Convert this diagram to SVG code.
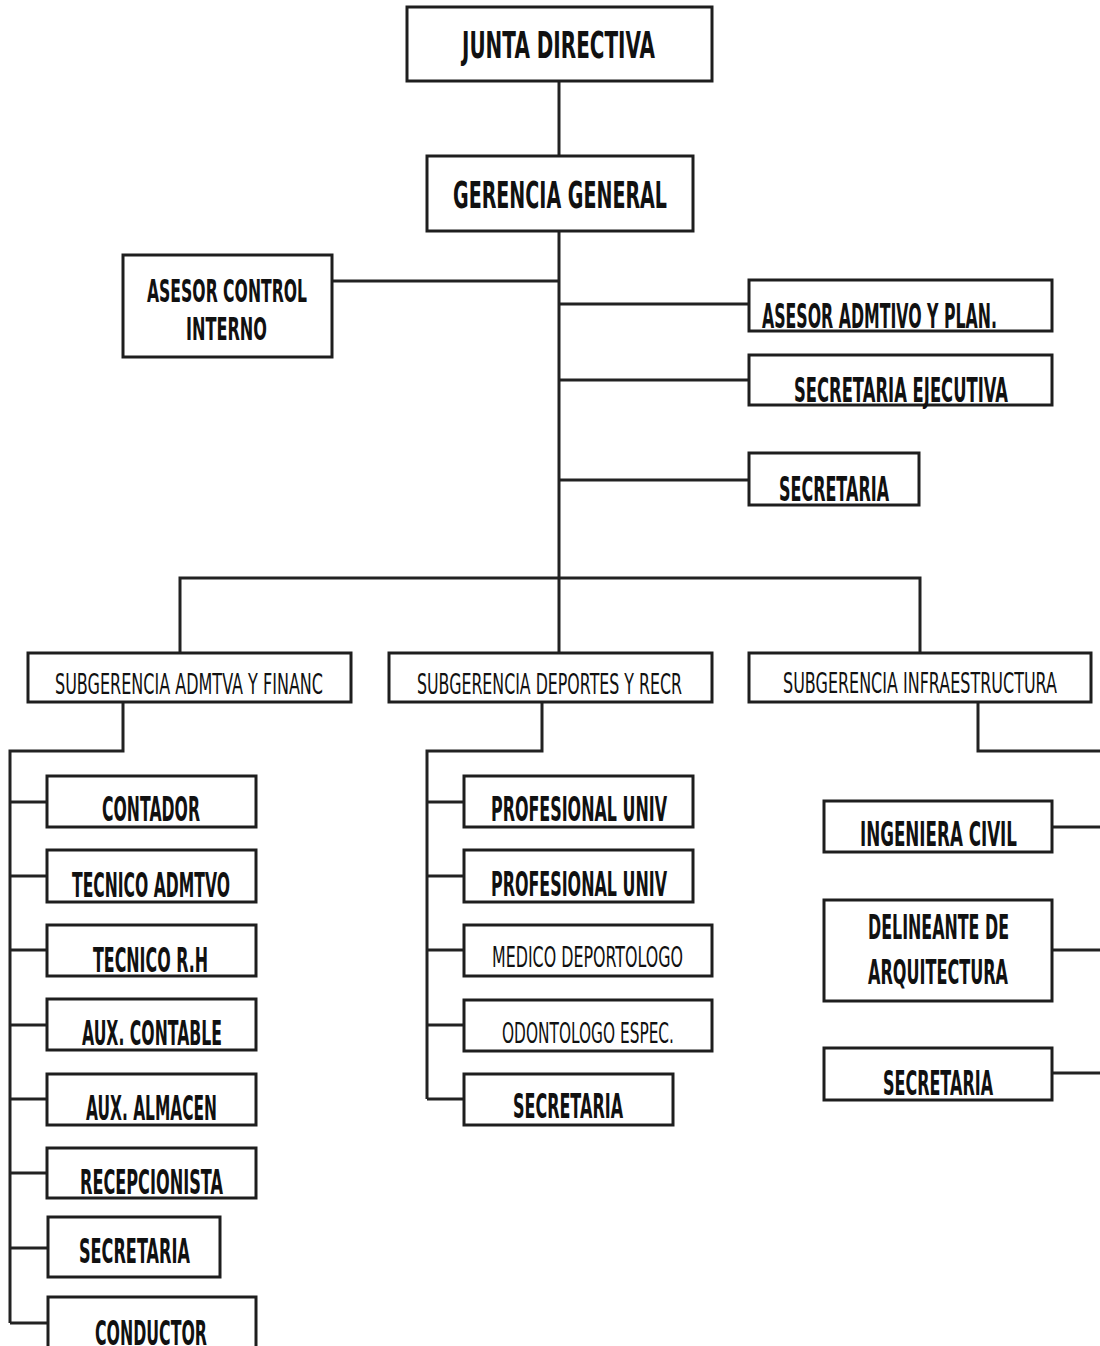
<svg xmlns="http://www.w3.org/2000/svg" width="1100" height="1346" viewBox="0 0 1100 1346">
<style>
.box{fill:#fff;stroke:#1e1e1e;stroke-width:3}
.b{font-family:"DejaVu Sans","Liberation Sans",sans-serif;font-weight:bold;fill:#111}
.n{font-family:"DejaVu Sans","Liberation Sans",sans-serif;font-weight:normal;fill:#111}
.big{font-size:19.4px}
.ac{font-size:15px}
.tr{font-size:15.7px}
.ch{font-size:15.6px}
.sub{font-size:15.7px}
.med{font-size:15.7px}
.ln{fill:none;stroke:#222;stroke-width:3}
</style>
<rect width="1100" height="1346" fill="#fff"/>
<g id="connectors" class="ln">
<path d="M559 81V156"/>
<path d="M559 231V653"/>
<path d="M332 281H559"/>
<path d="M559 304H749"/>
<path d="M559 380H749"/>
<path d="M559 480H749"/>
<path d="M180 653V578H920V653"/>
<path d="M123 702V751H10V1323"/>
<path d="M10 802H47M10 876H47M10 950H47M10 1025H47M10 1099H47M10 1173H47M10 1248H48M10 1323H48"/>
<path d="M542 702V751H427V1099"/>
<path d="M427 802H464M427 876H464M427 950H464M427 1025H464M427 1099H464"/>
<path d="M978 702V751H1100"/>
<path d="M1052 827H1100M1052 950H1100M1052 1073H1100"/>
</g>
<g id="junta"><rect class="box" x="407" y="7" width="305" height="74"/><text class="b big" x="462" y="58" transform="matrix(1 0 0 1.96 0 -55.68)" textLength="193" lengthAdjust="spacingAndGlyphs">JUNTA DIRECTIVA</text></g>
<g id="gerencia"><rect class="box" x="427" y="156" width="266" height="75"/><text class="b big" x="453" y="208" transform="matrix(1 0 0 1.96 0 -199.68)" textLength="214" lengthAdjust="spacingAndGlyphs">GERENCIA GENERAL</text></g>
<g id="asesor-control"><rect class="box" x="123" y="255" width="209" height="102"/><text class="b ac" x="147" y="302" transform="matrix(1 0 0 2.133 0 -342.17)" textLength="160" lengthAdjust="spacingAndGlyphs">ASESOR CONTROL</text><text class="b ac" x="186" y="340" transform="matrix(1 0 0 2.133 0 -385.22)" textLength="81" lengthAdjust="spacingAndGlyphs">INTERNO</text></g>
<g id="asesor-admtivo"><rect class="box" x="749" y="280" width="303" height="51"/><text class="b tr" x="762" y="328" transform="matrix(1 0 0 2.102 0 -361.46)" textLength="235" lengthAdjust="spacingAndGlyphs">ASESOR ADMTIVO Y PLAN.</text></g>
<g id="secretaria-ejecutiva"><rect class="box" x="749" y="355" width="303" height="50"/><text class="b tr" x="794" y="402" transform="matrix(1 0 0 2.102 0 -443.00)" textLength="214" lengthAdjust="spacingAndGlyphs">SECRETARIA EJECUTIVA</text></g>
<g id="secretaria-gerencia"><rect class="box" x="749" y="453" width="170" height="52"/><text class="b tr" x="779" y="501" transform="matrix(1 0 0 2.102 0 -552.10)" textLength="110" lengthAdjust="spacingAndGlyphs">SECRETARIA</text></g>
<g id="sub-admtva"><rect class="box" x="28" y="653" width="323" height="49"/><text class="n sub" x="55" y="694" transform="matrix(1 0 0 1.847 0 -587.82)" textLength="268" lengthAdjust="spacingAndGlyphs">SUBGERENCIA ADMTVA Y FINANC</text></g>
<g id="sub-deportes"><rect class="box" x="389" y="653" width="323" height="49"/><text class="n sub" x="417" y="694" transform="matrix(1 0 0 1.847 0 -587.82)" textLength="265" lengthAdjust="spacingAndGlyphs">SUBGERENCIA DEPORTES Y RECR</text></g>
<g id="sub-infra"><rect class="box" x="749" y="653" width="342" height="49"/><text class="n sub" x="783" y="693" transform="matrix(1 0 0 1.847 0 -586.97)" textLength="274" lengthAdjust="spacingAndGlyphs">SUBGERENCIA INFRAESTRUCTURA</text></g>
<g id="contador"><rect class="box" x="47" y="776" width="209" height="51"/><text class="b ch" x="102" y="821" transform="matrix(1 0 0 2.18 0 -968.78)" textLength="98" lengthAdjust="spacingAndGlyphs">CONTADOR</text></g>
<g id="tecnico-admtvo"><rect class="box" x="47" y="850" width="209" height="52"/><text class="b ch" x="72" y="897" transform="matrix(1 0 0 2.18 0 -1058.46)" textLength="158" lengthAdjust="spacingAndGlyphs">TECNICO ADMTVO</text></g>
<g id="tecnico-rh"><rect class="box" x="47" y="925" width="209" height="51"/><text class="b ch" x="93" y="972" transform="matrix(1 0 0 2.18 0 -1146.96)" textLength="115" lengthAdjust="spacingAndGlyphs">TECNICO R.H</text></g>
<g id="aux-contable"><rect class="box" x="47" y="999" width="209" height="51"/><text class="b ch" x="82" y="1045" transform="matrix(1 0 0 2.18 0 -1233.10)" textLength="140" lengthAdjust="spacingAndGlyphs">AUX. CONTABLE</text></g>
<g id="aux-almacen"><rect class="box" x="47" y="1074" width="209" height="51"/><text class="b ch" x="86" y="1120" transform="matrix(1 0 0 2.18 0 -1321.60)" textLength="131" lengthAdjust="spacingAndGlyphs">AUX. ALMACEN</text></g>
<g id="recepcionista"><rect class="box" x="47" y="1148" width="209" height="50"/><text class="b ch" x="80" y="1194" transform="matrix(1 0 0 2.18 0 -1408.92)" textLength="143" lengthAdjust="spacingAndGlyphs">RECEPCIONISTA</text></g>
<g id="secretaria-admtva"><rect class="box" x="48" y="1217" width="172" height="60"/><text class="b ch" x="79" y="1263" transform="matrix(1 0 0 2.18 0 -1490.34)" textLength="111" lengthAdjust="spacingAndGlyphs">SECRETARIA</text></g>
<g id="conductor"><rect class="box" x="48" y="1297" width="208" height="60"/><text class="b ch" x="95" y="1345" transform="matrix(1 0 0 2.18 0 -1587.10)" textLength="112" lengthAdjust="spacingAndGlyphs">CONDUCTOR</text></g>
<g id="profesional-1"><rect class="box" x="464" y="776" width="229" height="51"/><text class="b ch" x="491" y="821" transform="matrix(1 0 0 2.18 0 -968.78)" textLength="176" lengthAdjust="spacingAndGlyphs">PROFESIONAL UNIV</text></g>
<g id="profesional-2"><rect class="box" x="464" y="850" width="229" height="52"/><text class="b ch" x="491" y="896" transform="matrix(1 0 0 2.18 0 -1057.28)" textLength="176" lengthAdjust="spacingAndGlyphs">PROFESIONAL UNIV</text></g>
<g id="medico"><rect class="box" x="464" y="925" width="248" height="51"/><text class="n med" x="492" y="967" transform="matrix(1 0 0 1.783 0 -757.16)" textLength="191" lengthAdjust="spacingAndGlyphs">MEDICO DEPORTOLOGO</text></g>
<g id="odontologo"><rect class="box" x="464" y="1000" width="248" height="51"/><text class="n med" x="502" y="1043" transform="matrix(1 0 0 1.783 0 -816.67)" textLength="172" lengthAdjust="spacingAndGlyphs">ODONTOLOGO ESPEC.</text></g>
<g id="secretaria-deportes"><rect class="box" x="464" y="1074" width="209" height="51"/><text class="b ch" x="513" y="1118" transform="matrix(1 0 0 2.18 0 -1319.24)" textLength="110" lengthAdjust="spacingAndGlyphs">SECRETARIA</text></g>
<g id="ingeniera"><rect class="box" x="824" y="801" width="228" height="51"/><text class="b ch" x="860" y="846" transform="matrix(1 0 0 2.18 0 -998.28)" textLength="157" lengthAdjust="spacingAndGlyphs">INGENIERA CIVIL</text></g>
<g id="delineante"><rect class="box" x="824" y="900" width="228" height="101"/><text class="b ch" x="868" y="939" transform="matrix(1 0 0 2.18 0 -1108.02)" textLength="141" lengthAdjust="spacingAndGlyphs">DELINEANTE DE</text><text class="b ch" x="868" y="984" transform="matrix(1 0 0 2.18 0 -1161.12)" textLength="140" lengthAdjust="spacingAndGlyphs">ARQUITECTURA</text></g>
<g id="secretaria-infra"><rect class="box" x="824" y="1048" width="228" height="52"/><text class="b ch" x="883" y="1095" transform="matrix(1 0 0 2.18 0 -1292.10)" textLength="110" lengthAdjust="spacingAndGlyphs">SECRETARIA</text></g>
</svg>
